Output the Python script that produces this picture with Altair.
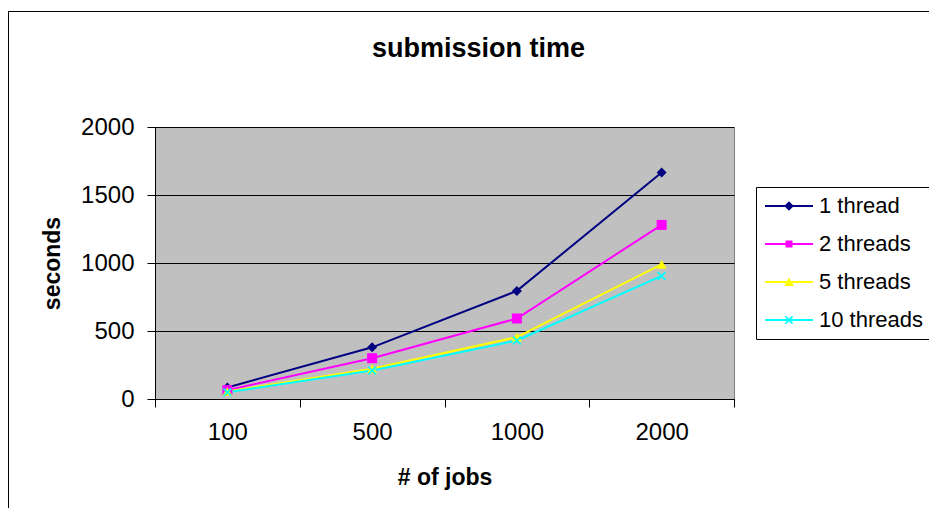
import altair as alt
import pandas as pd

jobs = ["100", "500", "1000", "2000"]
series = ["1 thread", "2 threads", "5 threads", "10 threads"]
t1 = [85, 380, 795, 1665]
t2 = [65, 300, 592, 1280]
t5 = [55, 222, 455, 990]
t10 = [50, 210, 430, 905]
colors = ["#000080", "#FF00FF", "#FFFF00", "#00FFFF"]
y_ticks = [0, 500, 1000, 1500, 2000]

rows = []
for s, vals in zip(series, [t1, t2, t5, t10]):
    for j, v in zip(jobs, vals):
        rows.append({"jobs": j, "series": s, "marker": s, "seconds": v})
df = pd.DataFrame(rows)

FONT = "Liberation Sans"

# filled marker paths used in the plot (the X is two thin filled bars)
x_path = ("M-0.9,-0.65L-0.65,-0.9L0.9,0.65L0.65,0.9Z"
          "M0.9,-0.65L-0.65,0.9L-0.9,0.65L0.65,-0.9Z")
shapes = ["diamond", "square", "triangle-up", x_path]

# legend symbol paths: a thin filled line with the marker in its middle
leg_line = "M-1,-0.1H3.8V0.1H-1Z"
leg_paths = [
    leg_line + "M1.4,-0.48L1.88,0L1.4,0.48L0.92,0Z",
    leg_line + "M1.05,-0.36H1.75V0.36H1.05Z",
    leg_line + "M1.4,-0.46L1.88,0.4L0.92,0.4Z",
    leg_line + "M0.98,-0.3L1.1,-0.42L1.82,0.3L1.7,0.42Z"
               "M1.82,-0.3L1.1,0.42L0.98,0.3L1.7,-0.42Z",
]

x_enc = alt.X(
    "jobs:N",
    sort=jobs,
    scale=alt.Scale(type="band", paddingInner=0, paddingOuter=0),
    axis=alt.Axis(
        title="# of jobs",
        labelAngle=0,
        tickBand="extent",
        grid=False,
        domainColor="black",
        tickColor="black",
        tickSize=8,
        labelFont=FONT,
        labelFontSize=24,
        labelColor="black",
        labelPadding=13,
        titleFont=FONT,
        titleFontSize=23,
        titleFontWeight="bold",
        titleColor="black",
        titlePadding=22,
    ),
)
y_enc = alt.Y(
    "seconds:Q",
    scale=alt.Scale(domain=[0, 2000], nice=False),
    axis=alt.Axis(
        title="seconds",
        values=y_ticks,
        format="d",
        grid=True,
        gridColor="black",
        gridWidth=1,
        domainColor="black",
        tickColor="black",
        tickSize=8,
        labelFont=FONT,
        labelFontSize=24,
        labelColor="black",
        labelPadding=13,
        titleFont=FONT,
        titleFontSize=23,
        titleFontWeight="bold",
        titleColor="black",
        titlePadding=16,
    ),
)

legend = alt.Legend(
    title=None,
    orient="none",
    legendX=601,
    legendY=60,
    padding=8,
    strokeColor="black",
    fillColor="white",
    labelFont=FONT,
    labelFontSize=22,
    labelColor="black",
    symbolSize=400,
    symbolOpacity=1,
    symbolStrokeWidth=0,
    symbolFillColor=alt.ExprRef(expr="scale('color', datum.value)"),
    rowPadding=16,
    labelOffset=33,
)

color_scale = alt.Scale(domain=series, range=colors)

base = alt.Chart(df)

lines = base.mark_line(strokeWidth=2).encode(
    x=x_enc,
    y=y_enc,
    color=alt.Color("series:N", scale=color_scale, sort=series, legend=None),
    order=alt.Order("jobs_idx:Q"),
).transform_calculate(jobs_idx="indexof(['100','500','1000','2000'], datum.jobs)")

points = base.mark_point(filled=True, size=100, opacity=1).encode(
    x=x_enc,
    y=y_enc,
    color=alt.Color("series:N", scale=color_scale, sort=series, legend=None),
    shape=alt.Shape("marker:N", scale=alt.Scale(domain=series, range=shapes), legend=None),
)

# legend carrier: no marks drawn, legend built from the scales' domains
legend_layer = base.transform_filter("false").mark_point(filled=True, opacity=1).encode(
    x=x_enc,
    y=y_enc,
    color=alt.Color("series:N", scale=color_scale, sort=series, legend=legend),
    shape=alt.Shape("series:N", scale=alt.Scale(domain=series, range=leg_paths), legend=legend),
)

frame_df = pd.DataFrame({"a": [0]})
frame_left = alt.Chart(frame_df).mark_rule(color="black", strokeWidth=1).encode(
    x=alt.value(-146.5), y=alt.value(-116), y2=alt.value(381)
)
frame_top = alt.Chart(frame_df).mark_rule(color="black", strokeWidth=1).encode(
    x=alt.value(-147), x2=alt.value(774), y=alt.value(-115.5)
)

chart = (
    alt.layer(frame_left, frame_top, lines, points, legend_layer)
    .resolve_scale(shape="independent")
    .properties(
        width=579,
        height=272,
        title=alt.TitleParams(
            "submission time",
            font=FONT,
            fontSize=27,
            fontWeight="bold",
            color="black",
            anchor="middle",
            baseline="alphabetic",
            dx=34,
            dy=73,
            offset=0,
        ),
        autosize=alt.AutoSizeParams(type="none"),
        padding={"left": 147, "top": 119, "right": 195, "bottom": 109},
        background="white",
    )
    .configure_view(fill="#C0C0C0", stroke="#808080", strokeWidth=1)
)

chart.save("out.html", embed_options={"renderer": "svg", "actions": False})
